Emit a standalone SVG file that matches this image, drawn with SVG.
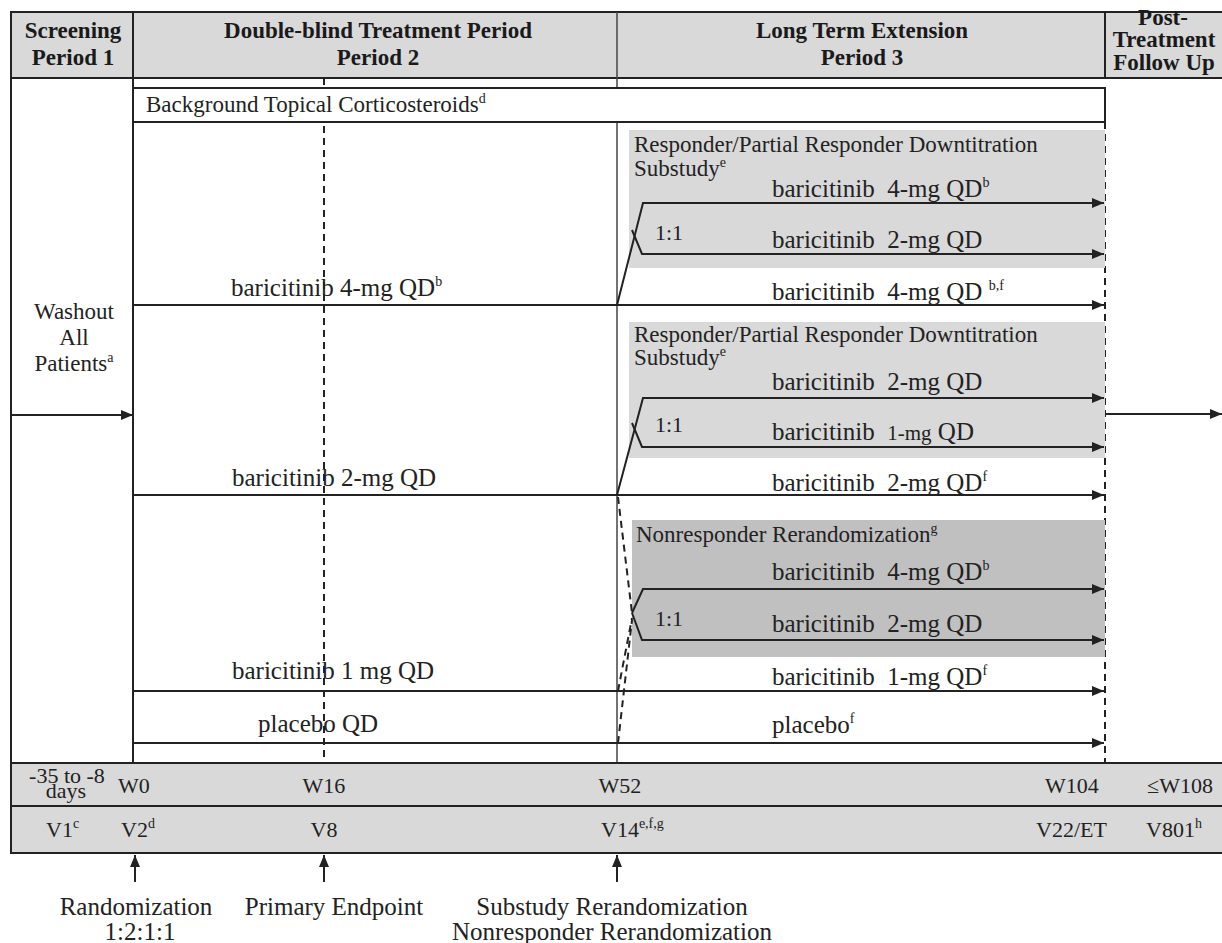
<svg xmlns="http://www.w3.org/2000/svg" width="1222" height="943" viewBox="0 0 1222 943">
<defs>
<style>
.hd{font-family:"Liberation Serif","Times New Roman",serif;font-weight:bold;font-size:23px;fill:#1a1a1a}
.t{font-family:"Liberation Serif","Times New Roman",serif;font-size:25px;fill:#222}
.s{font-family:"Liberation Serif","Times New Roman",serif;font-size:22px;fill:#222}
.m{font-family:"Liberation Serif","Times New Roman",serif;font-size:23px;fill:#222}
.sup{font-size:14px}
.ln{stroke:#222;stroke-width:2;fill:none}
.thin{stroke:#444;stroke-width:1.5;fill:none}
.dash{stroke:#222;stroke-width:2;fill:none;stroke-dasharray:7 5}
.gl{fill:#d9d9d9}
.gd{fill:#c0c0c0}
</style>
<marker id="ah" viewBox="0 0 12 10" refX="12" refY="5" markerWidth="13" markerHeight="10" markerUnits="userSpaceOnUse" orient="auto">
<path d="M0,0 L12,5 L0,10 z" fill="#222"/>
</marker>
</defs>
<rect width="1222" height="943" fill="#fff"/>

<g id="header">
<rect x="11" y="12" width="1215" height="66" class="gl" stroke="#222" stroke-width="2"/>
<line x1="133" y1="12" x2="133" y2="78" class="ln"/>
<line x1="617" y1="12" x2="617" y2="78" class="thin"/>
<line x1="1105" y1="12" x2="1105" y2="78" class="ln"/>
<text class="hd" x="73" y="38" text-anchor="middle">Screening</text>
<text class="hd" x="73" y="65" text-anchor="middle">Period 1</text>
<text class="hd" x="378" y="38" text-anchor="middle">Double-blind Treatment Period</text>
<text class="hd" x="378" y="65" text-anchor="middle">Period 2</text>
<text class="hd" x="862" y="38" text-anchor="middle">Long Term Extension</text>
<text class="hd" x="862" y="65" text-anchor="middle">Period 3</text>
<text class="hd" x="1163" y="25" text-anchor="middle">Post-</text>
<text class="hd" x="1164" y="47" text-anchor="middle">Treatment</text>
<text class="hd" x="1164" y="70" text-anchor="middle">Follow Up</text>
</g>

<g id="frame">
<line x1="11" y1="78" x2="11" y2="763" class="ln"/>
<line x1="133" y1="78" x2="133" y2="763" class="ln"/>
<line x1="617" y1="78" x2="617" y2="763" class="thin"/>
<line x1="324" y1="78" x2="324" y2="763" class="dash"/>
<line x1="1105" y1="122" x2="1105" y2="763" class="dash"/>
</g>

<g id="background-tcs">
<rect x="133" y="88" width="972" height="34" fill="#fff" stroke="#222" stroke-width="2"/>
<text class="m" x="146" y="112">Background Topical Corticosteroids<tspan class="sup" dy="-9">d</tspan></text>
</g>

<g id="substudy-4mg">
<rect x="629" y="130" width="476" height="138" class="gl"/>
<text class="m" x="634" y="152">Responder/Partial Responder Downtitration</text>
<text class="m" x="634" y="176">Substudy<tspan class="sup" dy="-9">e</tspan></text>
<text class="t" x="772" y="197">baricitinib&#160; 4-mg QD<tspan class="sup" dy="-10">b</tspan></text>
<text class="s" x="655" y="240">1:1</text>
<text class="t" x="772" y="248">baricitinib&#160; 2-mg QD</text>
</g>

<g id="substudy-2mg">
<rect x="629" y="322" width="476" height="136" class="gl"/>
<text class="m" x="634" y="342">Responder/Partial Responder Downtitration</text>
<text class="m" x="634" y="365">Substudy<tspan class="sup" dy="-9">e</tspan></text>
<text class="t" x="772" y="390">baricitinib&#160; 2-mg QD</text>
<text class="s" x="655" y="432">1:1</text>
<text class="t" x="772" y="440">baricitinib&#160; <tspan font-size="21">1-mg</tspan> QD</text>
</g>

<g id="nonresponder">
<rect x="632" y="520" width="473" height="137" class="gd"/>
<text class="m" x="636" y="542">Nonresponder Rerandomization<tspan class="sup" dy="-9">g</tspan></text>
<text class="t" x="772" y="580">baricitinib&#160; 4-mg QD<tspan class="sup" dy="-10">b</tspan></text>
<text class="s" x="655" y="626">1:1</text>
<text class="t" x="772" y="632">baricitinib&#160; 2-mg QD</text>
</g>

<g id="washout">
<text class="m" x="74" y="319" text-anchor="middle">Washout</text>
<text class="m" x="74" y="345" text-anchor="middle">All</text>
<text class="m" x="74" y="371" text-anchor="middle">Patients<tspan class="sup" dy="-9">a</tspan></text>
</g>

<g id="arm-labels">
<text class="t" x="231" y="296">baricitinib 4-mg QD<tspan class="sup" dy="-10">b</tspan></text>
<text class="t" x="772" y="300">baricitinib&#160; 4-mg QD <tspan class="sup" dy="-10">b,f</tspan></text>
<text class="t" x="232" y="486">baricitinib 2-mg QD</text>
<text class="t" x="772" y="491">baricitinib&#160; 2-mg QD<tspan class="sup" dy="-10">f</tspan></text>
<text class="t" x="232" y="679">baricitinib 1 mg QD</text>
<text class="t" x="772" y="685">baricitinib&#160; 1-mg QD<tspan class="sup" dy="-10">f</tspan></text>
<text class="t" x="258" y="732">placebo QD</text>
<text class="t" x="772" y="733">placebo<tspan class="sup" dy="-10">f</tspan></text>
</g>

<g id="connectors">
<line x1="11" y1="415" x2="133" y2="415" class="ln" marker-end="url(#ah)"/>
<line x1="1105" y1="414" x2="1222" y2="414" class="ln" marker-end="url(#ah)"/>
<line x1="133" y1="305" x2="1104" y2="305" class="ln" marker-end="url(#ah)"/>
<line x1="133" y1="495" x2="1104" y2="495" class="ln" marker-end="url(#ah)"/>
<line x1="133" y1="691" x2="1104" y2="691" class="ln" marker-end="url(#ah)"/>
<line x1="133" y1="743" x2="1104" y2="743" class="ln" marker-end="url(#ah)"/>
<polyline points="617,305 643,203 1104,203" class="ln" marker-end="url(#ah)"/>
<polyline points="632,230 642,254 1104,254" class="ln" marker-end="url(#ah)"/>
<polyline points="617,495 643,398 1104,398" class="ln" marker-end="url(#ah)"/>
<polyline points="632,423 642,447 1104,447" class="ln" marker-end="url(#ah)"/>
<polyline points="632,613 643,589 1104,589" class="ln" marker-end="url(#ah)"/>
<polyline points="632,613 642,640 1104,640" class="ln" marker-end="url(#ah)"/>
<line x1="618" y1="497" x2="632" y2="613" class="dash"/>
<line x1="618" y1="691" x2="632" y2="618" class="dash"/>
<line x1="618" y1="743" x2="632" y2="620" class="dash"/>
<line x1="135" y1="882" x2="135" y2="855" class="ln" marker-end="url(#ah)"/>
<line x1="324" y1="882" x2="324" y2="855" class="ln" marker-end="url(#ah)"/>
<line x1="617" y1="882" x2="617" y2="855" class="ln" marker-end="url(#ah)"/>
</g>

<g id="timeline">
<rect x="11" y="763" width="1215" height="90" class="gl" stroke="#222" stroke-width="2"/>
<line x1="11" y1="806" x2="1222" y2="806" class="ln"/>
<text class="s" x="67" y="783" text-anchor="middle">-35 to -8</text>
<text class="s" x="66" y="798" text-anchor="middle">days</text>
<text class="s" x="118" y="793">W0</text>
<text class="s" x="324" y="793" text-anchor="middle">W16</text>
<text class="s" x="620" y="793" text-anchor="middle">W52</text>
<text class="s" x="1072" y="793" text-anchor="middle">W104</text>
<text class="s" x="1180" y="793" text-anchor="middle">≤W108</text>
<text class="s" x="46" y="837">V1<tspan class="sup" dy="-9">c</tspan></text>
<text class="s" x="121" y="837">V2<tspan class="sup" dy="-9">d</tspan></text>
<text class="s" x="324" y="837" text-anchor="middle">V8</text>
<text class="s" x="601" y="837">V14<tspan class="sup" dy="-9">e,f,g</tspan></text>
<text class="s" x="1036" y="837">V22/ET</text>
<text class="s" x="1146" y="837">V801<tspan class="sup" dy="-9">h</tspan></text>
</g>

<g id="milestones">
<text class="t" x="136" y="915" text-anchor="middle">Randomization</text>
<text class="t" x="140" y="940" text-anchor="middle">1:2:1:1</text>
<text class="t" x="334" y="915" text-anchor="middle">Primary Endpoint</text>
<text class="t" x="612" y="915" text-anchor="middle">Substudy Rerandomization</text>
<text class="t" x="612" y="940" text-anchor="middle">Nonresponder Rerandomization</text>
</g>
</svg>
